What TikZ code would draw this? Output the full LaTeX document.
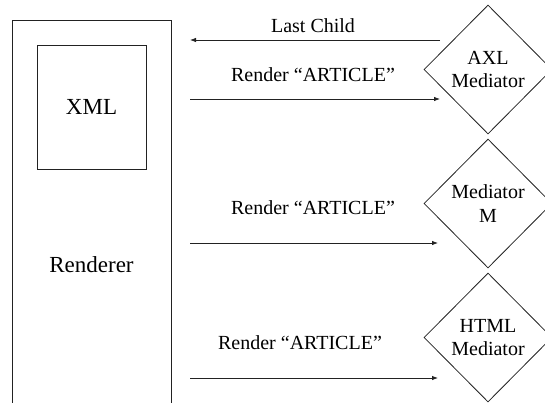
\documentclass[tikz,border=0pt]{standalone}
\usepackage{fontspec}
\setmainfont{Liberation Serif}
\usetikzlibrary{arrows.meta,shapes.geometric}
\definecolor{linegrey}{HTML}{222222}

\tikzset{
  box/.style={draw=linegrey, rectangle, inner sep=0pt, line width=0.8pt,
              font=\fontsize{23}{27}\selectfont},
  mediator/.style={draw=linegrey, diamond, aspect=1, inner sep=0pt, line width=0.8pt,
                   minimum width=128pt, minimum height=129pt, align=center,
                   font=\fontsize{20}{23.5}\selectfont},
  msg/.style={draw=linegrey, line width=0.8pt, -{Latex[length=6pt,width=4.5pt]}},
  msglabel/.style={font=\fontsize{20}{24}\selectfont}
}

\begin{document}
\begin{tikzpicture}[x=1pt,y=-1pt]
  \useasboundingbox (0,0) rectangle (545,402);
  \clip (0,0) rectangle (545,402);

  % Renderer with its XML
  \node[box, minimum width=159pt, minimum height=490pt] (renderer) at (91.5,265) {Renderer};
  \node[box, minimum width=109pt, minimum height=124pt] (xml) at (91.5,107) {XML};

  % Mediators
  \node[mediator] (axl)  at (488,69.5)  {AXL\\Mediator};
  \node[mediator] (medm) at (488,203.5) {Mediator\\M};
  \node[mediator] (html) at (488,337.5) {HTML\\Mediator};

  % Arrow ends
  \coordinate (childfrom) at (440,40);
  \coordinate (childto)   at (190,40);
  \coordinate (renderA1)  at (190,99);
  \coordinate (renderA2)  at (440,99);
  \coordinate (renderM1)  at (190,243);
  \coordinate (renderM2)  at (438,243);
  \coordinate (renderH1)  at (190,378);
  \coordinate (renderH2)  at (438,378);

  % Last child back to the renderer
  \draw[msg] (childfrom) -- (childto);
  \node[msglabel] (childlbl) at (313,26) {Last Child};

  % Render calls
  \draw[msg] (renderA1) -- (renderA2);
  \node[msglabel] (renderlblA) at (313,75) {Render “ARTICLE”};

  \draw[msg] (renderM1) -- (renderM2);
  \node[msglabel] (renderlblM) at (313,208) {Render “ARTICLE”};

  \draw[msg] (renderH1) -- (renderH2);
  \node[msglabel] (renderlblH) at (300,343) {Render “ARTICLE”};
\end{tikzpicture}
\end{document}
